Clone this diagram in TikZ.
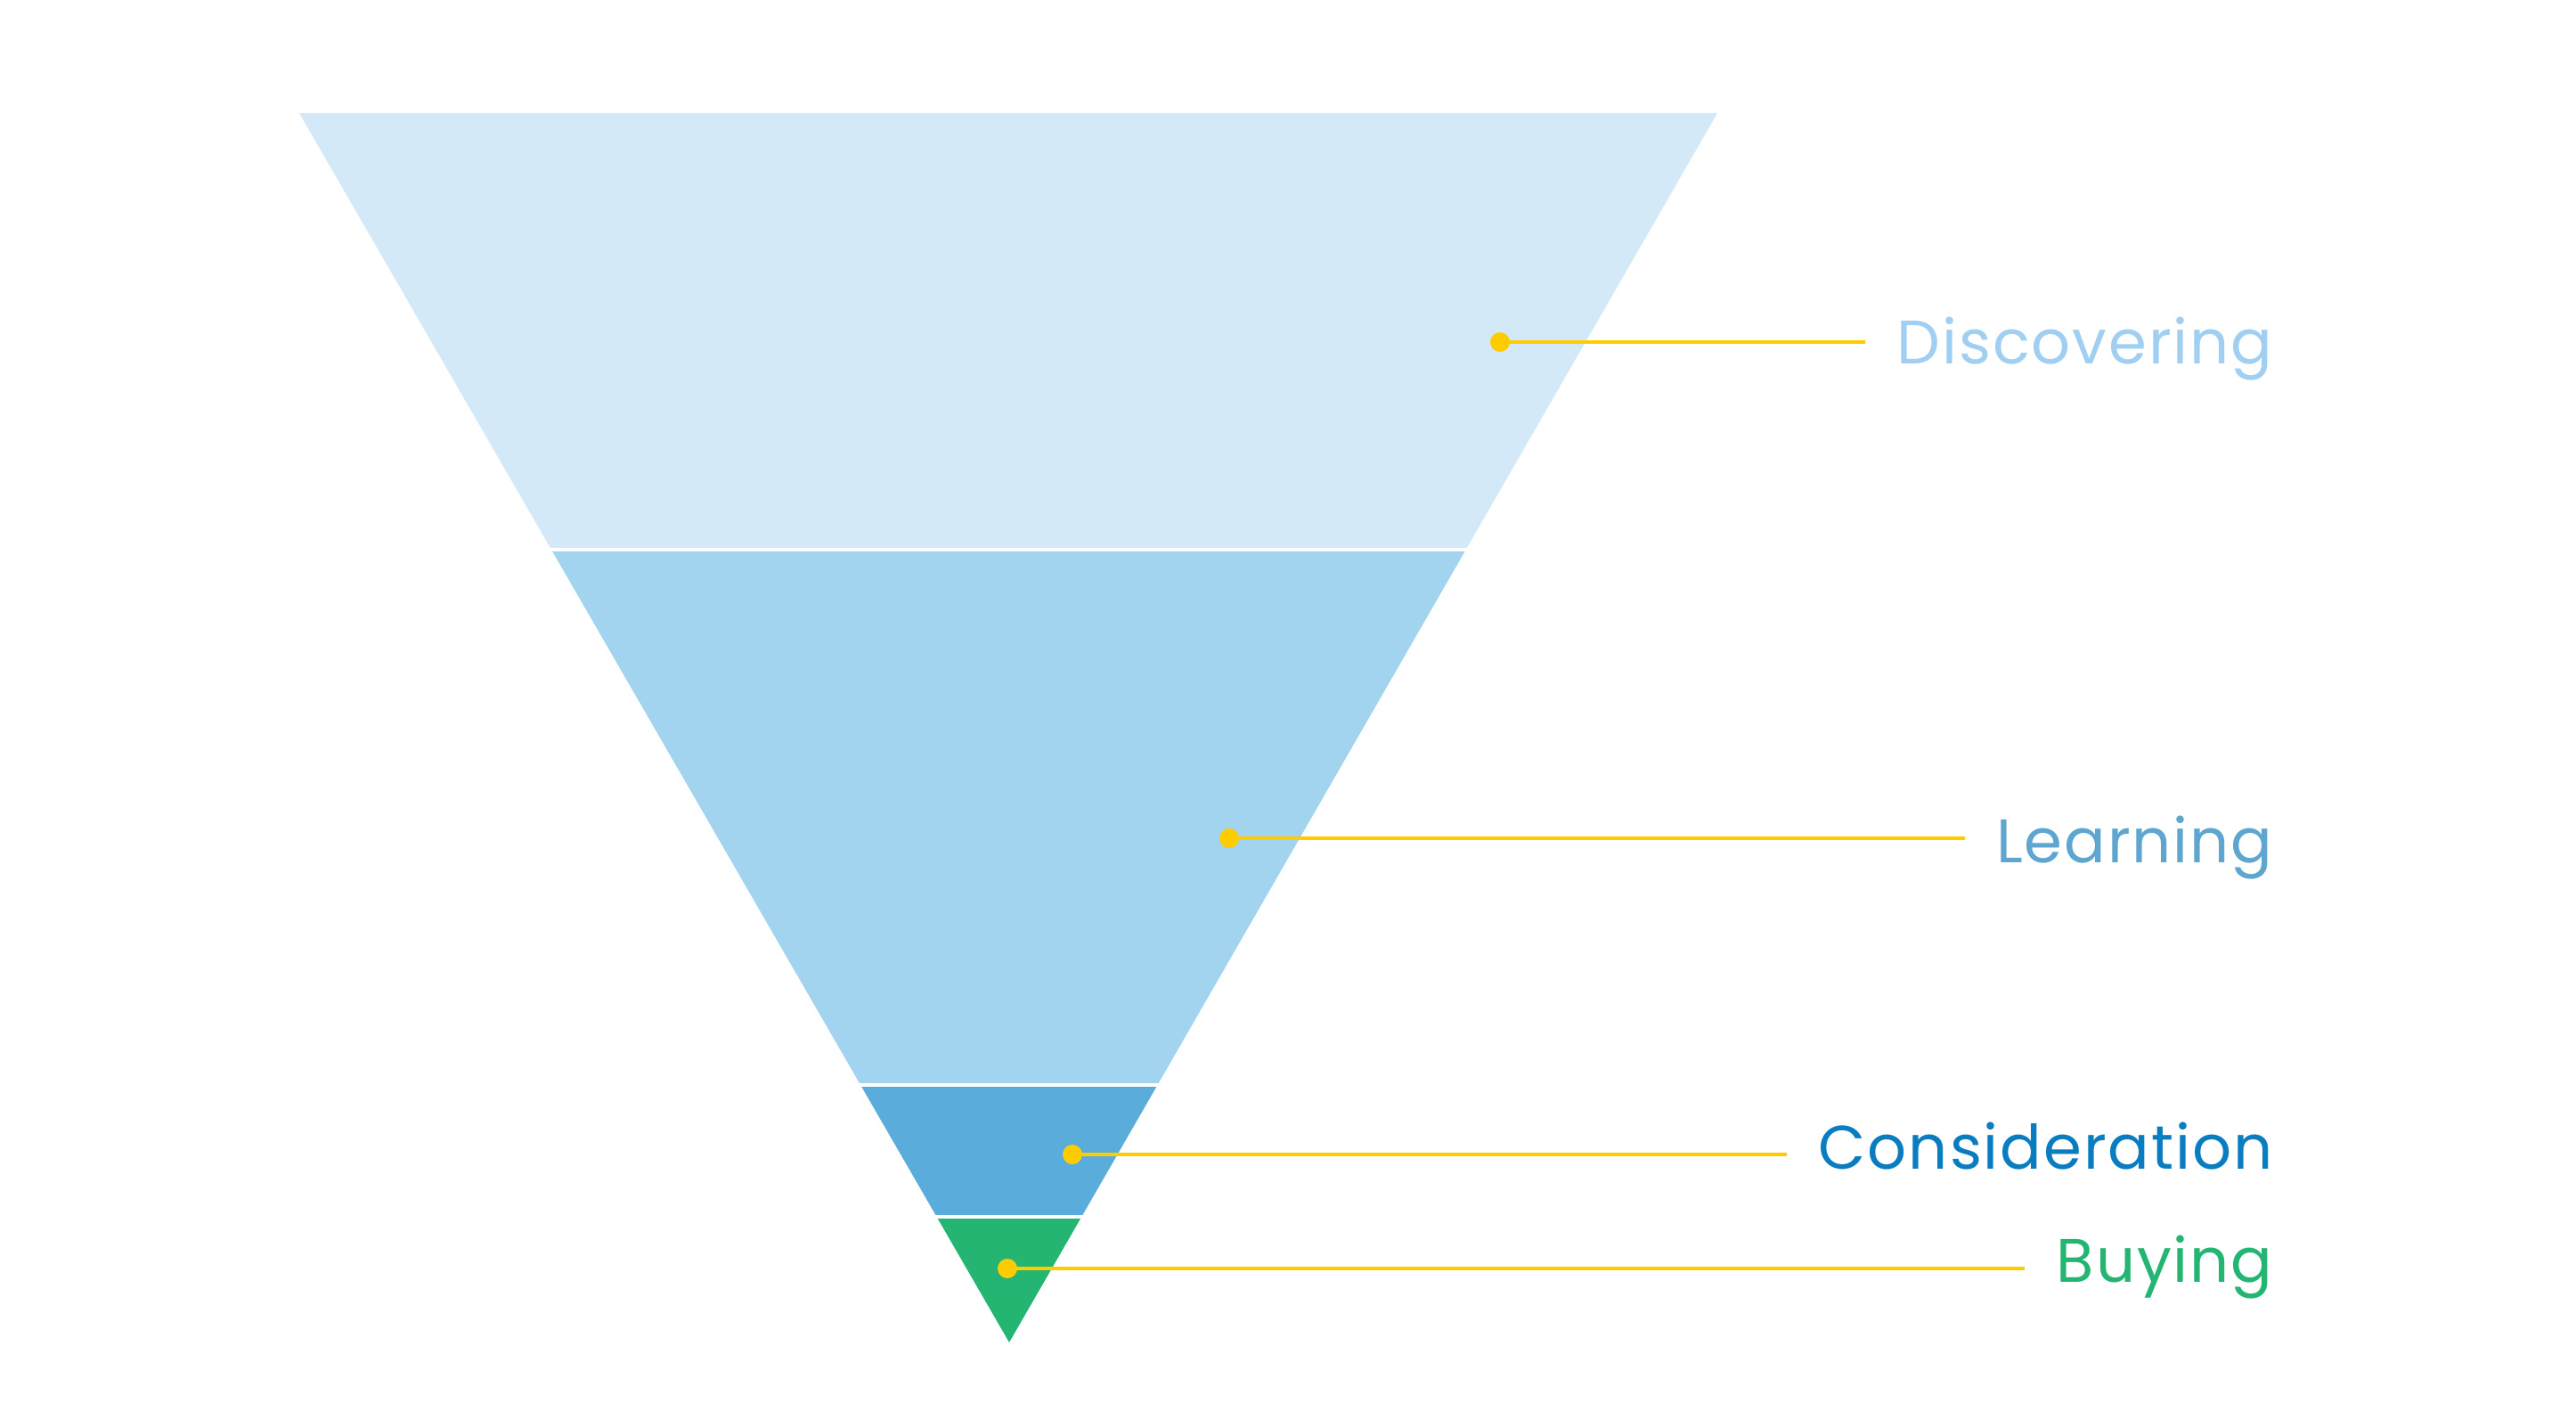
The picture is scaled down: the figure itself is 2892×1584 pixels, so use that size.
\documentclass[tikz,border=0pt]{standalone}
\usepackage{fontspec}
\setmainfont[LetterSpace=2.8]{Poppins}
\usetikzlibrary{positioning}
\definecolor{discover}{HTML}{D4E9F7}
\definecolor{learn}{HTML}{A2D4F0}
\definecolor{consider}{HTML}{5AADDB}
\definecolor{buy}{HTML}{24B573}
\definecolor{discovertext}{HTML}{A0CFF2}
\definecolor{learntext}{HTML}{5EA6CF}
\definecolor{considertext}{HTML}{0A7DC1}
\definecolor{gold}{HTML}{FFCC00}

\begin{document}
\begin{tikzpicture}[x=0.5pt,y=-0.5pt,
      dot/.style={circle, fill=gold, inner sep=0pt, minimum size=11pt},
      stagelabel/.style={anchor=base east, inner sep=0pt, font=\fontsize{34.5}{40}\selectfont},
      leader/.style={draw=gold, line width=2pt, shorten >=17.5pt},
      gap/.style={draw=white, line width=2pt}]

\useasboundingbox (0,0) rectangle (2892,1584);

\begin{scope}
\clip (336,127) -- (1928,127) -- (1133,1507) -- cycle;
\fill[discover] (300,100) rectangle (2000,617);
\fill[learn] (300,617) rectangle (2000,1218);
\fill[consider] (300,1218) rectangle (2000,1366);
\fill[buy] (300,1366) rectangle (2000,1520);
\end{scope}
\draw[gap] (300,617) -- (2000,617);
\draw[gap] (300,1218) -- (2000,1218);
\draw[gap] (300,1366) -- (2000,1366);

\node[stagelabel,text=discovertext] (t1) at (2552,408) {Discovering};
\node[stagelabel,text=learntext] (t2) at (2552,968) {Learning};
\node[stagelabel,text=considertext] (t3) at (2552,1312) {Consideration};
\node[stagelabel,text=buy] (t4) at (2552,1439) {Buying};

\node[dot] (d1) at (1684,384) {};
\node[dot] (d2) at (1380,941) {};
\node[dot] (d3) at (1204,1296) {};
\node[dot] (d4) at (1131,1424) {};

\draw[leader] (d1.center) -- (t1.west |- d1);
\draw[leader] (d2.center) -- (t2.west |- d2);
\draw[leader] (d3.center) -- (t3.west |- d3);
\draw[leader] (d4.center) -- (t4.west |- d4);

\end{tikzpicture}
\end{document}
